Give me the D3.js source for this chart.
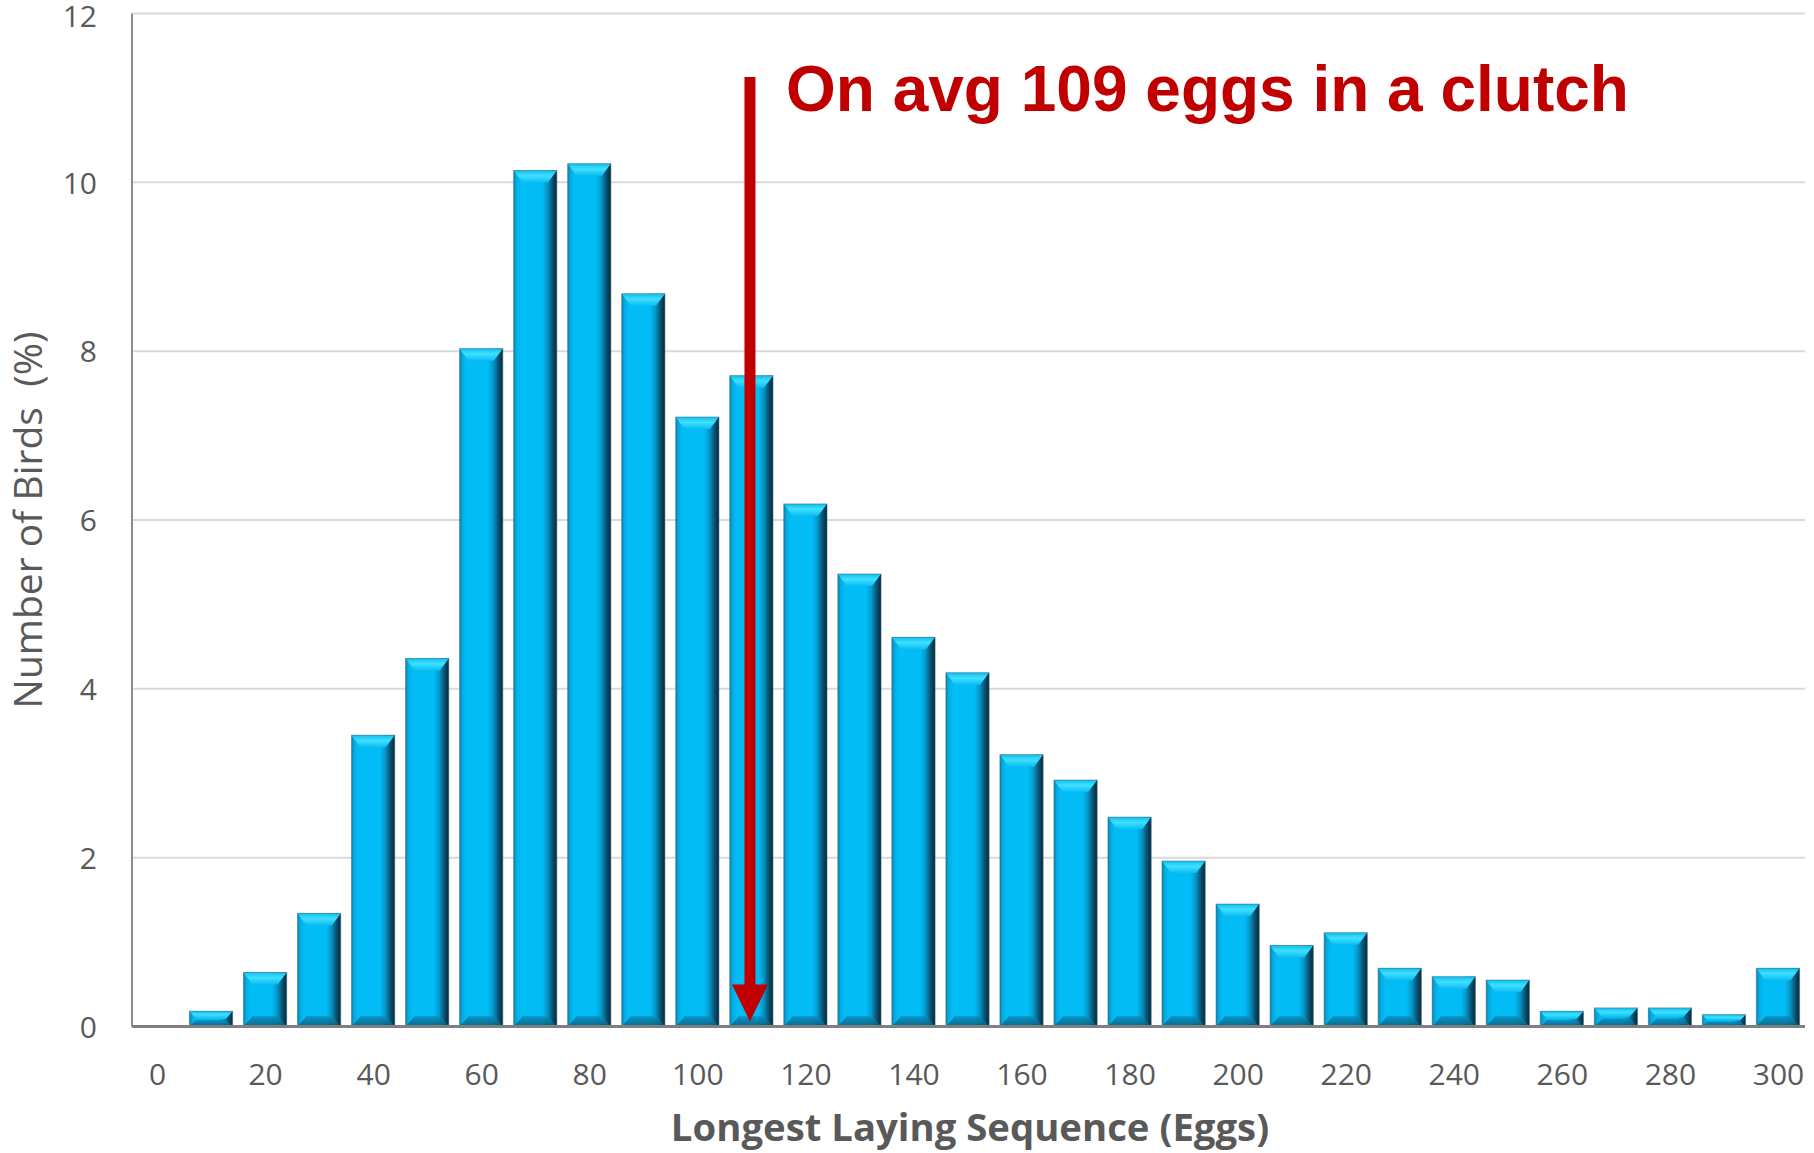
<!DOCTYPE html>
<html>
<head>
<meta charset="utf-8">
<script src="https://cdn.jsdelivr.net/npm/d3@7"></script>
<style>
  html, body { margin: 0; padding: 0; background: #ffffff; }
  svg { display: block; }
</style>
</head>
<body>
<svg id="chart" width="1814" height="1153"></svg>
<script>
// ---- data ----
const categories = [0,10,20,30,40,50,60,70,80,90,100,110,120,130,140,150,160,170,180,190,200,210,220,230,240,250,260,270,280,290,300];
const birdsPct   = [0,0.18,0.64,1.34,3.45,4.36,8.03,10.14,10.22,8.68,7.22,7.71,6.19,5.36,4.61,4.19,3.22,2.92,2.48,1.96,1.45,0.96,1.11,0.69,0.59,0.55,0.18,0.22,0.22,0.14,0.69];
const xTickLabels = [0,20,40,60,80,100,120,140,160,180,200,220,240,260,280,300];
const yTickLabels = [0,2,4,6,8,10,12];
const averageEggs = 109;
const annotationText = "On avg 109 eggs in a clutch";
const xTitle = "Longest Laying Sequence (Eggs)";
const yTitle = "Number of Birds  (%)";

(function () {
// ---- layout ----
const svg = d3.select("#chart");
const pLeft = 132, pRight = 1805, pTop = 13.5, pBottom = 1026.5;
const step = 10;
const x = d3.scaleLinear().domain([categories[0] - step/2, categories[categories.length-1] + step/2]).range([pLeft - 2, pRight]);
const y = d3.scaleLinear().domain([0, 12]).range([pBottom, pTop]);
const pxPerStep = x(step) - x(0);
const barW = pxPerStep * 0.80;

const defs = svg.append("defs");
function grad(id, x2, y2, stops) {
  const g = defs.append("linearGradient").attr("id", id)
    .attr("x1", 0).attr("y1", 0).attr("x2", x2).attr("y2", y2);
  stops.forEach(s => g.append("stop").attr("offset", s[0]).attr("stop-color", s[1]));
}
grad("bodyGrad", 1, 0, [["0%","#0a80ae"],["6%","#06a9e0"],["15%","#02bcf6"],["66%","#02bcf6"],["78%","#0597c8"],["90%","#0b5070"],["100%","#09283a"]]);
grad("topGrad", 0, 1, [["0%","#11bff0"],["45%","#3fe0ff"],["100%","#0bbcf3"]]);
grad("botGrad", 0, 1, [["0%","#0a8cba"],["100%","#0b5b7c"]]);

// gridlines
svg.append("g").selectAll("line").data(yTickLabels.filter(d => d > 0)).join("line")
  .attr("x1", pLeft).attr("x2", pRight)
  .attr("y1", d => y(d)).attr("y2", d => y(d))
  .attr("stroke", "#d9d9d9").attr("stroke-width", 2);

// y axis line
svg.append("line").attr("x1", pLeft).attr("x2", pLeft).attr("y1", y(12)).attr("y2", y(0))
  .attr("stroke", "#8c8c8c").attr("stroke-width", 2);

// bars
const bars = svg.append("g").selectAll("g").data(categories.map((c, i) => ({c, v: birdsPct[i]})).filter(d => d.v > 0)).join("g");
bars.each(function(d) {
  const g = d3.select(this);
  const x0 = x(d.c) - barW/2, x1 = x(d.c) + barW/2;
  const y0 = y(d.v), y1 = y(0);
  const h = y1 - y0;
  const bv = Math.min(12, h/2);
  const bs = Math.min(9, bv * 0.9);
  g.append("rect").attr("x", x0).attr("y", y0).attr("width", barW).attr("height", h)
    .attr("fill", "url(#bodyGrad)");
  g.append("polygon").attr("points", [[x0,y0],[x1,y0],[x1-bs,y0+bv],[x0+bs,y0+bv]].join(" "))
    .attr("fill", "url(#topGrad)");
  g.append("polygon").attr("points", [[x0,y1],[x1,y1],[x1-bs,y1-bv*0.85],[x0+bs,y1-bv*0.85]].join(" "))
    .attr("fill", "url(#botGrad)").attr("opacity", 0.85);
  g.append("rect").attr("x", x0).attr("y", y0).attr("width", barW).attr("height", h)
    .attr("fill", "none").attr("stroke", "#2b6f8c").attr("stroke-opacity", 0.55).attr("stroke-width", 1);
});

// x axis baseline
svg.append("line").attr("x1", pLeft).attr("x2", pRight).attr("y1", y(0)).attr("y2", y(0))
  .attr("stroke", "#7f7f7f").attr("stroke-width", 3);

// x axis labels
const xAxis = d3.axisBottom(x).tickValues(xTickLabels).tickSize(0).tickPadding(0).tickFormat(d3.format("d"));
const gx = svg.append("g").attr("transform", `translate(0,${y(0)})`).call(xAxis);
gx.select(".domain").remove();
gx.selectAll("text").attr("y", 58).attr("dy", 0)
  .style("font-family", "'Open Sans', sans-serif").style("font-size", "30px").attr("fill", "#595959");

// y axis labels
const yAxis = d3.axisLeft(y).tickValues(yTickLabels).tickSize(0).tickPadding(0).tickFormat(d3.format("d"));
const gy = svg.append("g").attr("transform", `translate(97,0)`).call(yAxis);
gy.select(".domain").remove();
gy.selectAll("text").attr("x", 0).attr("dy", d => d === 12 ? "0.42em" : "0.36em")
  .style("font-family", "'Open Sans', sans-serif").style("font-size", "30px").attr("fill", "#595959");

// axis titles
svg.append("text").attr("x", 970).attr("y", 1141).attr("text-anchor", "middle")
  .style("font-family", "'Open Sans', sans-serif").style("font-size", "38.3px").style("font-weight", "bold")
  .attr("fill", "#595959").text(xTitle);
svg.append("text").attr("transform", `translate(42,${520}) rotate(-90)`).attr("text-anchor", "middle")
  .attr("xml:space", "preserve").style("white-space", "pre")
  .style("font-family", "'Open Sans', sans-serif").style("font-size", "39px")
  .attr("fill", "#595959").text(yTitle);

// average arrow
const ax = x(averageEggs) + 4;
const headH = 36, headW = 36;
svg.append("line").attr("x1", ax).attr("x2", ax).attr("y1", 77).attr("y2", y(0) - 6 - headH + 2)
  .attr("stroke", "#c00000").attr("stroke-width", 11);
svg.append("polygon")
  .attr("points", [[ax - headW/2, y(0) - 6 - headH], [ax + headW/2, y(0) - 6 - headH], [ax, y(0) - 5]].join(" "))
  .attr("fill", "#c00000");

// annotation
svg.append("text").attr("x", 786).attr("y", 111)
  .style("font-family", "'Liberation Sans', Arial, sans-serif").style("font-size", "64px").style("font-weight", "bold")
  .attr("fill", "#c00000").text(annotationText);
})();
</script>
</body>
</html>
